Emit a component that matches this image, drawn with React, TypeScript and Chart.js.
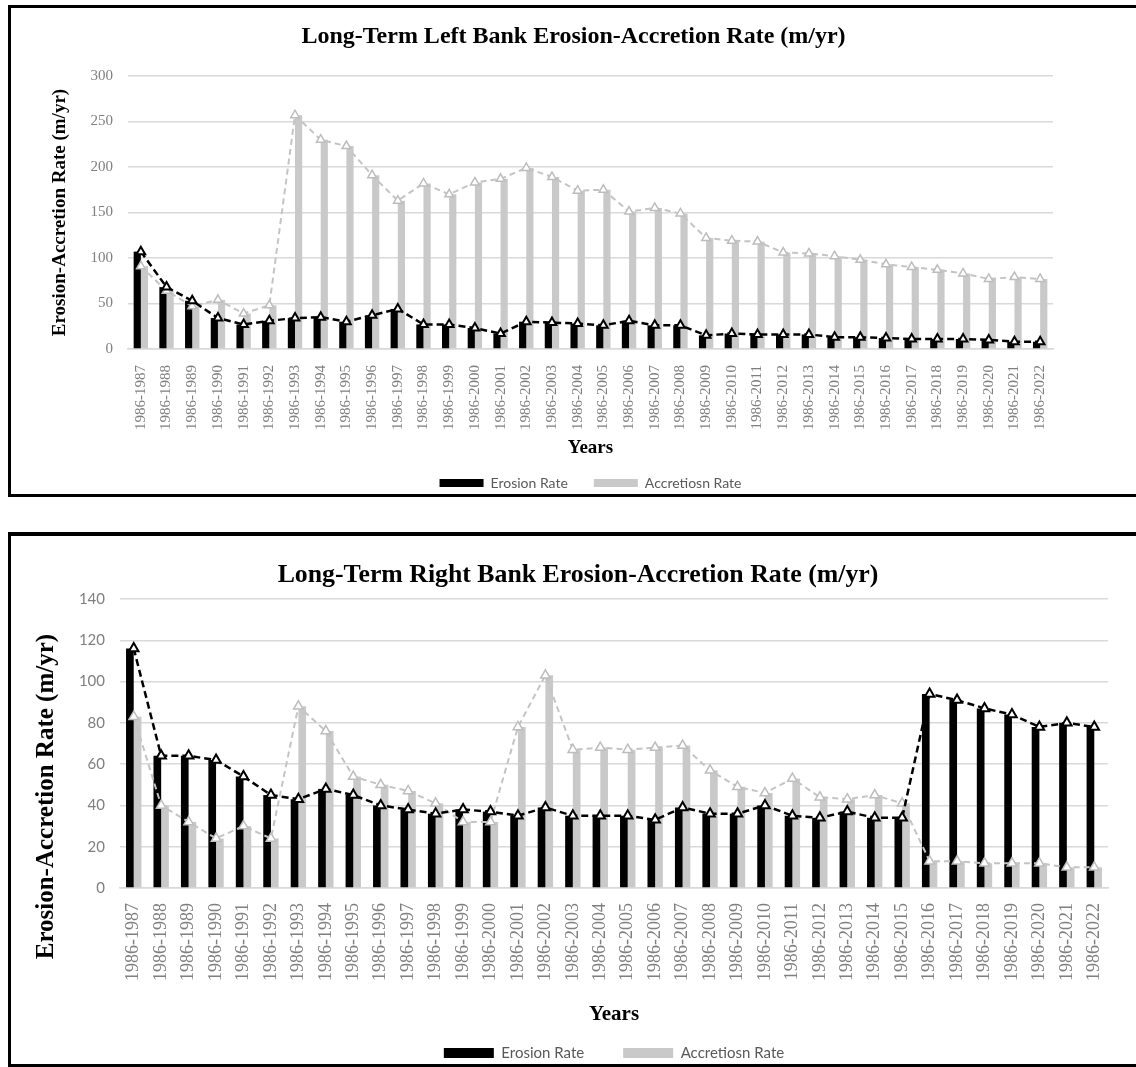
import React, { useEffect, useRef } from 'react';
import { Chart, registerables } from 'chart.js';

Chart.register(...registerables);

// ---------- DATA ----------
const yearLabels = [
  '1986-1987', '1986-1988', '1986-1989', '1986-1990', '1986-1991', '1986-1992',
  '1986-1993', '1986-1994', '1986-1995', '1986-1996', '1986-1997', '1986-1998',
  '1986-1999', '1986-2000', '1986-2001', '1986-2002', '1986-2003', '1986-2004',
  '1986-2005', '1986-2006', '1986-2007', '1986-2008', '1986-2009', '1986-2010',
  '1986-2011', '1986-2012', '1986-2013', '1986-2014', '1986-2015', '1986-2016',
  '1986-2017', '1986-2018', '1986-2019', '1986-2020', '1986-2021', '1986-2022',
];

const leftErosion = [
  107, 68, 53, 34, 27, 31, 34, 35, 30, 37, 44, 27, 27, 23, 17, 30, 29, 28,
  26, 31, 26, 26, 15, 17, 16, 16, 16, 13, 13, 12, 11, 11, 11, 10, 8, 8,
];
const leftAccretion = [
  91, 64, 47, 54, 39, 48, 257, 230, 223, 191, 163, 182, 170, 183, 187, 199, 189, 174,
  175, 151, 155, 149, 122, 119, 118, 106, 105, 102, 98, 93, 90, 87, 83, 77, 79, 77,
];
const rightErosion = [
  116, 64, 64, 62, 54, 45, 43, 48, 45, 40, 38, 36, 38, 37, 35, 39, 35, 35,
  35, 33, 39, 36, 36, 40, 35, 34, 37, 34, 34, 94, 91, 87, 84, 78, 80, 78,
];
const rightAccretion = [
  83, 40, 32, 24, 30, 24, 88, 76, 54, 50, 47, 41, 32, 32, 78, 103, 67, 68,
  67, 68, 69, 57, 49, 46, 53, 44, 43, 45, 41, 13, 13, 12, 12, 12, 10, 10,
];

const leftTicks = [0, 50, 100, 150, 200, 250, 300];
const rightTicks = [0, 20, 40, 60, 80, 100, 120, 140];

const seriesNames = ['Erosion Rate', 'Accretiosn Rate'];
const leftTitle = 'Long-Term Left Bank Erosion-Accretion Rate (m/yr)';
const rightTitle = 'Long-Term Right Bank Erosion-Accretion Rate (m/yr)';
const yAxisTitle = 'Erosion-Accretion Rate (m/yr)';
const xAxisTitle = 'Years';

// ---------- STYLE ----------
const SERIF = '"Liberation Serif", "Times New Roman", serif';
const SANS = 'Lato, "Open Sans", sans-serif';
const GRAY_BAR = '#c9c9c9';
const GRID = '#d9d9d9';
const TICK = '#7f7f7f';

type Spec = {
  erosion: number[];
  accretion: number[];
  ticks: number[];
  title: string;
  titleSize: number;
  titlePad: { top: number; bottom: number };
  layoutPad: { left: number; top: number; right: number; bottom: number };
  rightGap: number;
  yWidth: number;
  yTickFont: { family: string; size: number };
  yTickPad: number;
  yTitleText: string;
  yTitleSize: number;
  yTitlePad: number;
  xHeight: number;
  xTickSize: number;
  xTickPad: number;
  xTitleSize: number;
  xTitlePadBottom: number;
  legendSize: number;
  legendBoxW: number;
  legendBoxH: number;
  legendPad: number;
  markerR: number;
};

function buildConfig(s: Spec): any {
  const step = s.ticks[1] - s.ticks[0];
  return {
    type: 'bar',
    data: {
      labels: yearLabels,
      datasets: [
        {
          type: 'bar', label: seriesNames[0], data: s.erosion, backgroundColor: '#000000',
          borderWidth: 0, order: 3, categoryPercentage: 0.56, barPercentage: 1,
        },
        {
          type: 'bar', label: seriesNames[1], data: s.accretion, backgroundColor: GRAY_BAR,
          borderWidth: 0, order: 3, categoryPercentage: 0.56, barPercentage: 1,
        },
        {
          type: 'line', label: seriesNames[0] + ' trend', data: s.erosion,
          borderColor: '#000000', borderWidth: 2.5, borderDash: [7, 4], fill: false, tension: 0,
          pointStyle: 'triangle', pointRadius: s.markerR, pointBorderWidth: 2,
          pointBackgroundColor: '#ffffff', pointBorderColor: '#000000', order: 1,
        },
        {
          type: 'line', label: seriesNames[1] + ' trend', data: s.accretion,
          borderColor: '#c4c4c4', borderWidth: 2, borderDash: [6, 4], fill: false, tension: 0,
          pointStyle: 'triangle', pointRadius: s.markerR, pointBorderWidth: 1.5,
          pointBackgroundColor: '#ffffff', pointBorderColor: '#bdbdbd', order: 2,
        },
      ],
    },
    options: {
      responsive: false,
      animation: false,
      devicePixelRatio: 1,
      layout: { padding: s.layoutPad },
      plugins: {
        title: {
          display: true, text: s.title, color: '#000000',
          font: { family: SERIF, size: s.titleSize, weight: 'bold' },
          padding: s.titlePad,
        },
        legend: {
          display: true, position: 'bottom', fullSize: false,
          labels: {
            filter: (item: any) => item.datasetIndex < 2,
            boxWidth: s.legendBoxW, boxHeight: s.legendBoxH, padding: s.legendPad,
            color: '#595959', font: { family: SANS, size: s.legendSize },
          },
        },
        tooltip: { enabled: false },
      },
      scales: {
        x: {
          grid: { display: false },
          border: { display: true, color: GRID, width: 1.5 },
          ticks: {
            autoSkip: false, maxRotation: 90, minRotation: 90, padding: s.xTickPad,
            color: TICK, font: { family: SERIF, size: s.xTickSize },
          },
          title: {
            display: true, text: xAxisTitle, color: '#000000',
            font: { family: SERIF, size: s.xTitleSize, weight: 'bold' },
            padding: { top: 0, bottom: s.xTitlePadBottom },
          },
          afterFit: (scale: any) => { scale.height = s.xHeight; },
        },
        y: {
          min: s.ticks[0], max: s.ticks[s.ticks.length - 1],
          ticks: { stepSize: step, padding: s.yTickPad, color: TICK, font: s.yTickFont },
          grid: { color: GRID, lineWidth: 1.5, drawTicks: false },
          border: { display: false },
          title: {
            display: true, text: s.yTitleText, color: '#000000',
            font: { family: SERIF, size: s.yTitleSize, weight: 'bold' },
            padding: { top: s.yTitlePad, bottom: 0 },
          },
          afterFit: (scale: any) => { scale.width = s.yWidth; },
        },
        // empty right-hand spacer: keeps the plot narrower than the frame
        spacer: {
          type: 'linear', position: 'right', display: true,
          grid: { display: false }, border: { display: false },
          ticks: { display: false }, title: { display: false },
          afterFit: (scale: any) => { scale.width = s.rightGap; },
        },
      },
    },
  };
}

const topSpec: Spec = {
  erosion: leftErosion,
  accretion: leftAccretion,
  ticks: leftTicks,
  title: leftTitle,
  titleSize: 24,
  titlePad: { top: 14.6, bottom: 24.6 },
  layoutPad: { left: 0, top: 0, right: 0, bottom: 8 },
  rightGap: 83,
  yWidth: 117,
  yTickFont: { family: SERIF, size: 15 },
  yTickPad: 15,
  yTitleText: yAxisTitle,
  yTitleSize: 19,
  yTitlePad: 37.6,
  xHeight: 101,
  xTickSize: 15,
  xTickPad: 8,
  xTitleSize: 19,
  xTitlePadBottom: -9.4,
  legendSize: 14,
  legendBoxW: 44,
  legendBoxH: 8,
  legendPad: 26,
  markerR: 5,
};

const bottomSpec: Spec = {
  erosion: rightErosion,
  accretion: rightAccretion,
  ticks: rightTicks,
  title: rightTitle,
  titleSize: 25.8,
  titlePad: { top: 23.5, bottom: 8.5 },
  layoutPad: { left: 0, top: 0, right: 0, bottom: 5.5 },
  rightGap: 37,
  yWidth: 109,
  yTickFont: { family: SANS, size: 15 },
  yTickPad: 15,
  yTitleText: yAxisTitle + '                 ',
  yTitleSize: 25,
  yTitlePad: 21,
  xHeight: 118.5,
  xTickSize: 18,
  xTickPad: 7,
  xTitleSize: 21,
  xTitlePadBottom: -21.1,
  legendSize: 15,
  legendBoxW: 50,
  legendBoxH: 10,
  legendPad: 39,
  markerR: 5.5,
};

function ChartCanvas(props: { spec: Spec; left: number; top: number; width: number; height: number }) {
  const ref = useRef<HTMLCanvasElement | null>(null);
  useEffect(() => {
    if (!ref.current) return;
    const chart = new Chart(ref.current, buildConfig(props.spec));
    return () => chart.destroy();
  }, []);
  return (
    <canvas
      ref={ref}
      width={props.width}
      height={props.height}
      style={{ position: 'absolute', left: props.left, top: props.top, width: props.width, height: props.height }}
    />
  );
}

export default function App() {
  return (
    <div style={{ position: 'absolute', left: 0, top: 0, width: 1136, height: 1067, overflow: 'hidden', background: '#ffffff' }}>
      <ChartCanvas spec={topSpec} left={11} top={8} width={1125} height={500} />
      <ChartCanvas spec={bottomSpec} left={11} top={536} width={1134} height={540} />
      <div style={{ position: 'absolute', left: 8, top: 5, width: 1200, height: 492, border: '3px solid #000', boxSizing: 'border-box', pointerEvents: 'none' }} />
      <div style={{ position: 'absolute', left: 8, top: 532, width: 1200, height: 535, borderTop: '4px solid #000', borderLeft: '3px solid #000', borderBottom: '3px solid #000', boxSizing: 'border-box', pointerEvents: 'none' }} />
    </div>
  );
}
